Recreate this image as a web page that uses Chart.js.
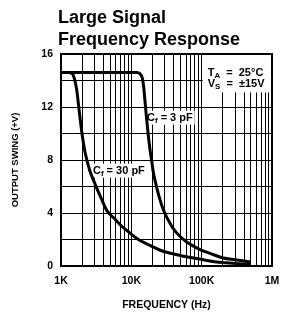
<!DOCTYPE html>
<html>
<head>
<meta charset="utf-8">
<script src="https://cdn.jsdelivr.net/npm/chart.js@4/dist/chart.umd.min.js"></script>
<style>
  html, body { margin: 0; padding: 0; background: #fff; }
</style>
</head>
<body>
<canvas id="Chart1" width="295" height="313"></canvas>
<script>
// Data
const freq30 = [1000, 1250, 1420, 1505, 1582, 1672, 1762, 1862, 2000, 2195, 2550, 3040, 3700, 4470, 5700, 7300, 9500, 12600, 18400, 26900, 40000, 55000, 90000, 163000, 300000, 500000];
const volt30 = [14.6, 14.6, 14.55, 14.35, 13.95, 13.3, 12.3, 11.2, 9.9, 8.6, 7.25, 6.2, 5.15, 4.2, 3.6, 3.0, 2.5, 2.0, 1.55, 1.15, 0.9, 0.74, 0.54, 0.3, 0.19, 0.1];
const freq3 = [1000, 12000, 13300, 14300, 15000, 15600, 16500, 17400, 18400, 19500, 20500, 22300, 24200, 28500, 37500, 44000, 60000, 95000, 140000, 203000, 300000, 500000];
const volt3 = [14.6, 14.6, 14.5, 14.2, 13.5, 12.5, 11.1, 9.9, 8.8, 7.9, 7.1, 6.2, 5.45, 4.25, 3.0, 2.5, 1.85, 1.24, 0.9, 0.6, 0.47, 0.3];

const xTickValues = [1000, 10000, 100000, 1000000];
const xTickLabels = ['1K', '10K', '100K', '1M'];
const yTickValues = [0, 4, 8, 12, 16];
const titleLines = ['Large Signal', 'Frequency Response'];

const FONT = "'Liberation Sans', Arial, sans-serif";

// log grid: 1..9 per decade
const gridFreqs = [];
for (let d = 1000; d < 1000000; d *= 10) {
  for (let k = 1; k <= 9; k++) gridFreqs.push(d * k);
}
gridFreqs.push(1000000);

function toPoints(xs, ys) {
  return xs.map((f, i) => ({ x: f, y: ys[i] }));
}

// text with a subscript, e.g. T_A
function drawSub(ctx, x, y, parts, size) {
  parts.forEach(p => {
    const s = p.sub ? size * 0.72 : size;
    ctx.font = 'bold ' + s + 'px ' + FONT;
    ctx.fillText(p.t, x, p.sub ? y + size * 0.3 : y);
    x += ctx.measureText(p.t).width;
  });
  return x;
}

function partsWidth(ctx, parts, size) {
  let w = 0;
  parts.forEach(p => {
    const s = p.sub ? size * 0.72 : size;
    ctx.font = 'bold ' + s + 'px ' + FONT;
    w += ctx.measureText(p.t).width;
  });
  return w;
}

const label3 = [{ t: 'C' }, { t: 'f', sub: true }, { t: ' = 3 pF' }];
const label30 = [{ t: 'C' }, { t: 'f', sub: true }, { t: ' = 30 pF' }];
const condA = [{ t: 'T' }, { t: 'A', sub: true }, { t: '  =  25°C' }];
const condB = [{ t: 'V' }, { t: 'S', sub: true }, { t: '  =  ±15V' }];

const decor = {
  id: 'decor',
  beforeDatasetsDraw(chart) {
    const { ctx, chartArea: a, scales: { x, y } } = chart;
    ctx.save();
    ctx.fillStyle = '#fff';
    // conditions box top right
    const bx = x.getPixelForValue(100000) + 1;
    const by = y.getPixelForValue(13.1);
    ctx.fillRect(bx, a.top, a.right - bx, by - a.top);
    ctx.fillStyle = '#000';
    ctx.textBaseline = 'middle';
    drawSub(ctx, bx + 5, y.getPixelForValue(14.6), condA, 11);
    drawSub(ctx, bx + 5, y.getPixelForValue(13.75), condB, 11);

    // curve labels
    [[label3, 16700, 11.2], [label30, 2850, 7.2]].forEach(([parts, f, v]) => {
      const lx = x.getPixelForValue(f);
      const ly = y.getPixelForValue(v);
      const w = partsWidth(ctx, parts, 11);
      ctx.fillStyle = '#fff';
      ctx.fillRect(lx - 2, ly - 7, w + 4, 14);
      ctx.fillStyle = '#000';
      drawSub(ctx, lx, ly, parts, 11);
    });
    ctx.restore();
  },
  afterDraw(chart) {
    const { ctx, chartArea: a } = chart;
    ctx.save();
    ctx.strokeStyle = '#000';
    ctx.lineWidth = 2;
    ctx.strokeRect(a.left, a.top, a.right - a.left, a.bottom - a.top);
    ctx.fillStyle = '#000';
    ctx.font = "bold 18px 'Liberation Sans', Arial, sans-serif";
    ctx.textBaseline = 'alphabetic';
    ctx.fillText(titleLines[0], 58, 23);
    ctx.fillText(titleLines[1], 58, 45);
    ctx.restore();
  }
};

const lineStyle = {
  showLine: true,
  borderColor: '#000',
  backgroundColor: '#000',
  borderWidth: 3,
  pointRadius: 0,
  cubicInterpolationMode: 'monotone'
};

new Chart(document.getElementById('Chart1').getContext('2d'), {
  type: 'scatter',
  data: {
    datasets: [
      Object.assign({ label: 'Cf = 3 pF', data: toPoints(freq3, volt3) }, lineStyle),
      Object.assign({ label: 'Cf = 30 pF', data: toPoints(freq30, volt30) }, lineStyle)
    ]
  },
  options: {
    responsive: false,
    animation: false,
    events: [],
    layout: { padding: { top: 54, right: 23, left: 0, bottom: 0 } },
    plugins: { legend: { display: false }, tooltip: { enabled: false } },
    scales: {
      x: {
        type: 'logarithmic',
        min: 1000,
        max: 1000000,
        afterBuildTicks: s => { s.ticks = gridFreqs.map(v => ({ value: v })); },
        afterFit: s => { s.height = 47; },
        grid: { color: '#000', lineWidth: 1, drawTicks: false },
        border: { color: '#000', width: 2 },
        ticks: {
          autoSkip: false,
          maxRotation: 0,
          padding: 9,
          color: '#000',
          font: { family: FONT, size: 10.5, weight: 'bold' },
          callback: v => {
            const i = xTickValues.indexOf(v);
            return i >= 0 ? xTickLabels[i] : '';
          }
        },
        title: {
          display: true,
          text: 'FREQUENCY (Hz)',
          color: '#000',
          font: { family: FONT, size: 10.5, weight: 'bold' },
          padding: { top: 0, bottom: 2 }
        }
      },
      y: {
        min: 0,
        max: 16,
        afterFit: s => { s.width = 61; },
        grid: { color: '#000', lineWidth: 1, drawTicks: false },
        border: { color: '#000', width: 2 },
        ticks: {
          stepSize: 2,
          padding: 8,
          color: '#000',
          font: { family: FONT, size: 10.5, weight: 'bold' },
          callback: v => yTickValues.includes(v) ? String(v) : ''
        },
        title: {
          display: true,
          text: 'OUTPUT SWING (+V)',
          color: '#000',
          font: { family: FONT, size: 9.5, weight: 'bold' },
          padding: { top: 10, bottom: 0 }
        }
      }
    }
  },
  plugins: [decor]
});
</script>
</body>
</html>
